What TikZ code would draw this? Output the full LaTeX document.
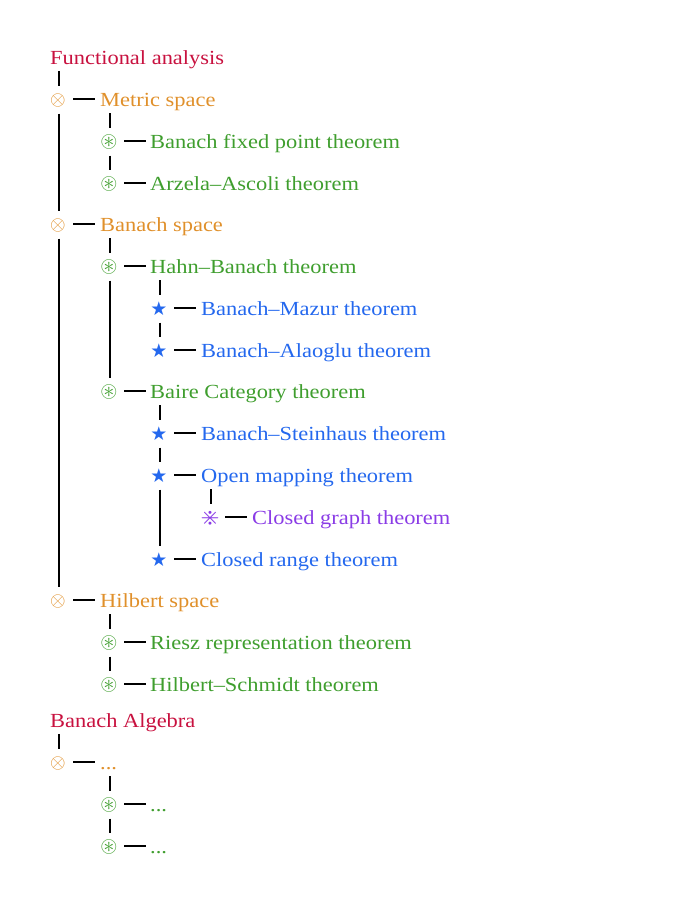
\documentclass[tikz,border=0pt]{standalone}
\usepackage{amssymb}
\usepackage{fontspec}
\setmainfont[FakeStretch=1.122]{Liberation Serif}
\newfontfamily\symfont{DejaVu Sans}
\definecolor{cred}{HTML}{C8113F}
\definecolor{corange}{HTML}{E0902B}
\definecolor{cgreen}{HTML}{3F9E2E}
\definecolor{cblue}{HTML}{2468EE}
\definecolor{cpurple}{HTML}{8A3CE6}
\tikzset{
  x=1pt,y=-1pt,
  txt/.style={anchor=base west,yshift=-0.6pt,inner xsep=5pt,inner ysep=0pt,font=\fontsize{20}{22}\selectfont,text height=12pt,text depth=6.5pt},
  sym/.style={inner sep=0pt,minimum width=28pt,minimum height=27pt,execute at begin node={\hspace*{-2pt}}},
  conn/.style={draw=black,line width=1.7pt},
  lr/.style={txt,text=cred},
  lo/.style={txt,text=corange},
  lg/.style={txt,text=cgreen},
  lb/.style={txt,text=cblue},
  lp/.style={txt,text=cpurple},
  so/.style={sym,text=corange},
  sg/.style={sym,text=cgreen},
  sb/.style={sym,text=cblue,font=\symfont\fontsize{19}{20}\selectfont},
  sp/.style={sym,text=cpurple},
}
\newcommand{\glo}{\scalebox{2.0}{$\otimes$}}
\newcommand{\glg}{\scalebox{2.2}{$\circledast$}}
\newcommand{\glp}{\scalebox{2.5}{$\divideontimes$}}
\begin{document}
\begin{tikzpicture}
\useasboundingbox (0,0) rectangle (680,910);
\node[lr] (fa) at (45,63.5) {Functional analysis};
\node[so] (s1) at (59,100) {\glo};
\node[lo] (t1) at (95,106) {Metric space};
\node[sg] (s2) at (110,142) {\glg};
\node[lg] (t2) at (145,148) {Banach fixed point theorem};
\node[sg] (s3) at (110,184) {\glg};
\node[lg] (t3) at (145,189.5) {Arzela–Ascoli theorem};
\node[so] (s4) at (59,225) {\glo};
\node[lo] (t4) at (95,231) {Banach space};
\node[sg] (s5) at (110,267) {\glg};
\node[lg] (t5) at (145,273) {Hahn–Banach theorem};
\node[sb] (s6) at (160,309) {★};
\node[lb] (t6) at (196,315) {Banach–Mazur theorem};
\node[sb] (s7) at (160,351) {★};
\node[lb] (t7) at (196,357) {Banach–Alaoglu theorem};
\node[sg] (s8) at (110,392) {\glg};
\node[lg] (t8) at (145,398) {Baire Category theorem};
\node[sb] (s9) at (160,434) {★};
\node[lb] (t9) at (196,440) {Banach–Steinhaus theorem};
\node[sb] (s10) at (160,476) {★};
\node[lb] (t10) at (196,482) {Open mapping theorem};
\node[sp] (s11) at (211,518) {\glp};
\node[lp] (t11) at (247,524) {Closed graph theorem};
\node[sb] (s12) at (160,560) {★};
\node[lb] (t12) at (196,566) {Closed range theorem};
\node[so] (s13) at (59,601) {\glo};
\node[lo] (t13) at (95,607) {Hilbert space};
\node[sg] (s14) at (110,643) {\glg};
\node[lg] (t14) at (145,649) {Riesz representation theorem};
\node[sg] (s15) at (110,685) {\glg};
\node[lg] (t15) at (145,691) {Hilbert–Schmidt theorem};
\node[lr] (ba) at (45,726.5) {Banach Algebra};
\node[so] (s16) at (59,763) {\glo};
\node[lo] (t16) at (95,769) {...};
\node[sg] (s17) at (110,805) {\glg};
\node[lg] (t17) at (145,811) {...};
\node[sg] (s18) at (110,847) {\glg};
\node[lg] (t18) at (145,853) {...};
% horizontal connectors
\foreach \i in {1,...,18} \draw[conn] (s\i.east) ++(0,-1) -- ++(22,0);
% vertical connectors
\draw[conn] (fa.south -| s1.north) -- (s1.north);
\draw[conn] (s1.south) -- (s4.north);
\draw[conn] (s4.south) -- (s13.north);
\draw[conn] (t1.south -| s2.north) -- (s2.north);
\draw[conn] (s2.south) -- (s3.north);
\draw[conn] (t4.south -| s5.north) -- (s5.north);
\draw[conn] (s5.south) -- (s8.north);
\draw[conn] (t5.south -| s6.north) -- (s6.north);
\draw[conn] (s6.south) -- (s7.north);
\draw[conn] (t8.south -| s9.north) -- (s9.north);
\draw[conn] (s9.south) -- (s10.north);
\draw[conn] (s10.south) -- (s12.north);
\draw[conn] (t10.south -| s11.north) -- (s11.north);
\draw[conn] (t13.south -| s14.north) -- (s14.north);
\draw[conn] (s14.south) -- (s15.north);
\draw[conn] (ba.south -| s16.north) -- (s16.north);
\draw[conn] (t16.south -| s17.north) -- (s17.north);
\draw[conn] (s17.south) -- (s18.north);
\end{tikzpicture}
\end{document}
